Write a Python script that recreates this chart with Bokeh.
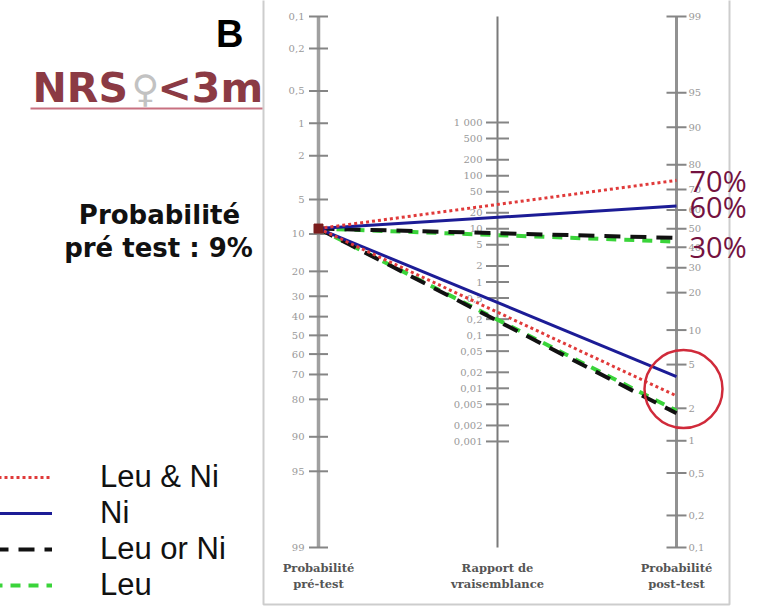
import numpy as np
from bokeh.plotting import figure
from bokeh.models import (ColumnDataSource, Label, BoxAnnotation, Legend,
                          LegendItem, Range1d)
from bokeh.core.properties import value
from bokeh.embed import file_html
from bokeh.resources import INLINE

W, H = 757, 613

# ---------------- data ----------------
pretest_prob = 9.0                      # % pre-test probability
tests = ["Leu & Ni", "Ni", "Leu or Ni", "Leu"]
post_positive = [74.0, 62.0, 45.0, 43.0]  # % post-test, positive result
post_negative = [2.6, 3.9, 1.8, 1.9]      # % post-test, negative result
post_labels = ["70%", "60%", "30%"]
highlight_prob = 3.0                      # % centre of the red circle

prob_ticks = [0.1, 0.2, 0.5, 1, 2, 5, 10, 20, 30, 40, 50, 60, 70, 80, 90, 95, 99]
prob_tick_labels = ["0,1", "0,2", "0,5", "1", "2", "5", "10", "20", "30", "40",
                    "50", "60", "70", "80", "90", "95", "99"]
lr_ticks = [1000, 500, 200, 100, 50, 20, 10, 5, 2, 1, 0.5, 0.2, 0.1, 0.05,
            0.02, 0.01, 0.005, 0.002, 0.001]
lr_tick_labels = ["1 000", "500", "200", "100", "50", "20", "10", "5", "2", "1",
                  "0,5", "0,2", "0,1", "0,05", "0,02", "0,01", "0,005", "0,002",
                  "0,001"]
axis_title_top = ["Probabilité", "Rapport de", "Probabilité"]
axis_title_bottom = ["pré-test", "vraisemblance", "post-test"]
pretest_text = ["Probabilité", "pré test : 9%"]

# ---------------- nomogram scales ----------------
def logit(pct):
    p = np.asarray(pct, dtype=float) / 100.0
    return np.log(p / (1.0 - p))

TOP = float(logit(prob_ticks[0]))    # 0.1 %
BOT = float(logit(prob_ticks[-1]))   # 99 %

def u_left(pct):
    return logit(pct)

def u_right(pct):
    return TOP + BOT - logit(pct)

def u_mid(lr):
    return (TOP + BOT - np.log(np.asarray(lr, dtype=float))) / 2.0

AX_TOP_PX, AX_BOT_PX = 16, 547
PXU = (AX_BOT_PX - AX_TOP_PX) / (BOT - TOP)
LEFT_PX, X_STEP = 318, 179
XL, XM, XR = 0.0, 1.0, 2.0

p = figure(width=W, height=H,
           x_range=Range1d(-LEFT_PX / X_STEP, (W - LEFT_PX) / X_STEP),
           y_range=Range1d(TOP + (H - AX_TOP_PX) / PXU, TOP - AX_TOP_PX / PXU),
           output_backend="svg", toolbar_location=None, min_border=0,
           outline_line_color=None, background_fill_color="white",
           border_fill_color="white")
p.xaxis.visible = False
p.yaxis.visible = False
p.grid.visible = False

# frame box
p.add_layout(BoxAnnotation(left=263, right=729, bottom=H - 604, top=H + 20,
                           left_units="screen", right_units="screen",
                           bottom_units="screen", top_units="screen",
                           fill_alpha=0, line_color="#5a5a5a", line_width=2))

# axis lines
ax_src = ColumnDataSource(dict(x=[XL, XM, XR], y0=[TOP] * 3, y1=[BOT] * 3,
                               w=[3.5, 2.0, 3.0],
                               c=["#a0a0a0", "#7a7a7a", "#929292"]))
p.segment(x0="x", y0="y0", x1="x", y1="y1", line_width="w", line_color="c",
          source=ax_src)

# ticks + tick labels
left_src = ColumnDataSource(dict(x=[XL] * len(prob_ticks), y=u_left(prob_ticks),
                                 t=prob_tick_labels))
right_src = ColumnDataSource(dict(x=[XR] * len(prob_ticks), y=u_right(prob_ticks),
                                  t=prob_tick_labels))
mid_src = ColumnDataSource(dict(x=[XM] * len(lr_ticks), y=u_mid(lr_ticks),
                                t=lr_tick_labels))
for src, size in ((left_src, 19), (mid_src, 23), (right_src, 20)):
    p.scatter(x="x", y="y", marker="dash", size=size, line_color="#858585",
              line_width=2, source=src)
tick_font = dict(text_font=value("DejaVu Serif"), text_font_size="10px",
                 text_color="#999999", text_baseline="middle")
p.text(x="x", y="y", text="t", source=left_src, text_align="right",
       x_offset=-14, **tick_font)
p.text(x="x", y="y", text="t", source=mid_src, text_align="right",
       x_offset=-15, **tick_font)
p.text(x="x", y="y", text="t", source=right_src, text_align="left",
       x_offset=12, **tick_font)

# axis titles
title_src = ColumnDataSource(dict(x=[XL, XM, XR], y=[BOT] * 3,
                                  a=axis_title_top, b=axis_title_bottom))
title_font = dict(text_font=value("DejaVu Serif"), text_font_size="11.5px",
                  text_font_style="bold", text_color="#555555",
                  text_align="center", text_baseline="middle")
p.text(x="x", y="y", text="a", source=title_src, y_offset=20, **title_font)
p.text(x="x", y="y", text="b", source=title_src, y_offset=36, **title_font)

# test lines
styles = {
    "Leu & Ni": dict(line_color="#e03a3a", line_width=3, line_dash="3 3"),
    "Ni": dict(line_color="#1c1c96", line_width=3),
    "Leu or Ni": dict(line_color="#111111", line_width=4, line_dash="16 10"),
    "Leu": dict(line_color="#3ad43a", line_width=4, line_dash="10 8"),
}
u_pre = float(u_left(pretest_prob))
renderers = {}
for i in (3, 2, 1, 0):
    name = tests[i]
    src = ColumnDataSource(dict(
        xs=[[XL, XR], [XL, XR]],
        ys=[[u_pre, float(u_right(post_positive[i]))],
            [u_pre, float(u_right(post_negative[i]))]]))
    renderers[name] = p.multi_line(xs="xs", ys="ys", source=src, **styles[name])

# pre-test point
p.scatter(x=[XL], y=[u_pre], marker="square", size=9, fill_color="#7a1c1c",
          line_color="#7a1c1c")

# highlight circle around the negative post-test results
p.circle(x=[XR + 7 / X_STEP], y=[float(u_right(highlight_prob))], radius=39,
         radius_units="screen", fill_color=None, line_color="#d02a3a",
         line_width=2.5)

# post-test percentage labels
lab_src = ColumnDataSource(dict(
    x=[XR] * len(post_labels),
    y=u_right(post_positive[:len(post_labels)]),
    t=post_labels, dy=[0, 0, 9]))
p.text(x="x", y="y", text="t", source=lab_src, x_offset=13, y_offset="dy",
       text_font=value("Open Sans"), text_font_size="29px",
       text_color="#74123f", text_baseline="middle", text_align="left")

# legend
legend = Legend(items=[LegendItem(label=t, renderers=[renderers[t]]) for t in tests],
                location=(-8, 10), orientation="vertical",
                label_text_font="Liberation Sans", label_text_font_size="31px",
                label_text_color="#111111", glyph_width=60, glyph_height=30,
                label_height=30, label_standoff=48, spacing=0, padding=0,
                margin=0, border_line_color=None, background_fill_alpha=0)
p.add_layout(legend)

# left-hand texts (py = wanted baseline from top; Label sits ~0.35 em low)
def screen_label(x, py, text, size, **kw):
    p.add_layout(Label(x=x, y=H - py + 0.35 * size, x_units="screen",
                       y_units="screen", text=text, text_baseline="alphabetic",
                       text_font_size=f"{size}px", **kw))

screen_label(243, 47, "B", 38, text_align="right", text_font="Liberation Sans",
             text_font_style="bold", text_color="#000000")
screen_label(32, 102, "NRS", 41, text_align="left", text_font="DejaVu Sans",
             text_font_style="bold", text_color="#8b3a44")
screen_label(131, 102, "\u2640", 38, text_align="left", text_font="DejaVu Sans",
             text_color="#c2c2c2")
screen_label(157, 102, "<3m", 41, text_align="left", text_font="DejaVu Sans",
             text_font_style="bold", text_color="#8b3a44")
p.add_layout(BoxAnnotation(left=30, right=262, bottom=H - 109, top=H - 107,
                           left_units="screen", right_units="screen",
                           bottom_units="screen", top_units="screen",
                           fill_color="#c87080", fill_alpha=1, line_color=None))
screen_label(159, 224, pretest_text[0], 26, text_align="center",
             text_font="DejaVu Sans", text_font_style="bold",
             text_color="#111111")
screen_label(158, 257, pretest_text[1], 26, text_align="center",
             text_font="DejaVu Sans", text_font_style="bold",
             text_color="#111111")

open("out.html", "w").write(file_html(p, INLINE))
